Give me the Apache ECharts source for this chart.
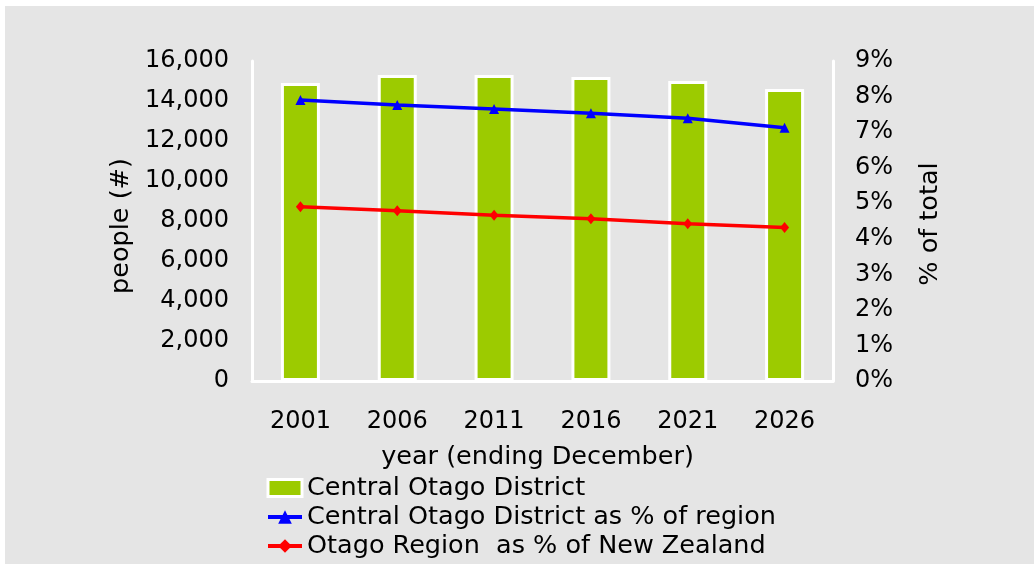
<!DOCTYPE html>
<html>
<head>
<meta charset="utf-8">
<script src="https://cdn.jsdelivr.net/npm/echarts@6/dist/echarts.min.js"></script>
<style>
html,body{margin:0;padding:0;background:#fff;}
#c{width:1034px;height:564px;}
</style>
</head>
<body>
<div id="c"></div>
<script>
const years = ['2001','2006','2011','2016','2021','2026'];
const districtPop = [14900, 15300, 15300, 15200, 15000, 14600];
const districtPctRegion = [7.90, 7.76, 7.65, 7.53, 7.39, 7.12];
const regionPctNZ = [4.90, 4.79, 4.66, 4.56, 4.42, 4.32];
const leftTicks = [0, 2000, 4000, 6000, 8000, 10000, 12000, 14000, 16000];
const rightTicks = [0,1,2,3,4,5,6,7,8,9];

const FONT = 'DejaVu Sans';
const chart = echarts.init(document.getElementById('c'), null, {renderer: 'canvas'});
const axisLine = {show: true, lineStyle: {color: '#ffffff', width: 3}};
chart.setOption({
  backgroundColor: '#ffffff',
  animation: false,
  textStyle: {fontFamily: FONT},
  graphic: [{
    type: 'rect', left: 5, top: 6, z: -10,
    shape: {width: 1029, height: 558},
    style: {fill: '#e5e5e5'}
  }],
  grid: {left: 252, right: 201, top: 61, bottom: 183},
  legend: {
    orient: 'vertical', left: 261, top: 470,
    itemWidth: 34, itemHeight: 17, itemGap: 3,
    textStyle: {fontFamily: FONT, fontSize: 25.5, color: '#000'},
    data: [
      {name: 'Central Otago District', icon: 'rect',
       itemStyle: {color: '#9ccb00', borderColor: '#ffffff', borderWidth: 3}},
      {name: 'Central Otago District as % of region', lineStyle: {width: 4, color: '#0000ff'}},
      {name: 'Otago Region  as % of New Zealand', lineStyle: {width: 4, color: '#ff0000'}}
    ]
  },
  xAxis: {
    type: 'category', data: years,
    axisLine: axisLine, axisTick: {show: false},
    axisLabel: {fontFamily: FONT, fontSize: 24, color: '#000', margin: 29},
    name: 'year (ending December)', nameLocation: 'middle', nameGap: 63,
    nameTextStyle: {fontFamily: FONT, fontSize: 25.5, color: '#000', padding: [0, 10, 0, 0]}
  },
  yAxis: [{
    type: 'value', min: 0, max: 16000, interval: 2000,
    axisLine: axisLine, axisTick: {show: false}, splitLine: {show: false},
    axisLabel: {fontFamily: FONT, fontSize: 24, color: '#000', margin: 23, padding: [4, 0, 0, 0],
      formatter: v => leftTicks.includes(v) ? v.toLocaleString('en-US') : ''},
    name: 'people (#)', nameLocation: 'middle', nameGap: 117, nameRotate: 90,
    nameTextStyle: {fontFamily: FONT, fontSize: 25.5, color: '#000', padding: [0, 10, 0, 0]}
  }, {
    type: 'value', min: 0, max: 9, interval: 1, position: 'right',
    axisLine: axisLine, axisTick: {show: false}, splitLine: {show: false},
    axisLabel: {fontFamily: FONT, fontSize: 24, color: '#000', margin: 22, padding: [4, 0, 0, 0],
      formatter: v => rightTicks.includes(v) ? v + '%' : ''},
    name: '% of total', nameLocation: 'middle', nameGap: 84, nameRotate: 90,
    nameTextStyle: {fontFamily: FONT, fontSize: 25.5, color: '#000', padding: [0, 6, 0, 0]}
  }],
  series: [{
    name: 'Central Otago District', type: 'bar', data: districtPop,
    barWidth: 39, yAxisIndex: 0,
    itemStyle: {color: '#9ccb00', borderColor: '#ffffff', borderWidth: 3}
  }, {
    name: 'Central Otago District as % of region', type: 'line', data: districtPctRegion,
    yAxisIndex: 1, symbol: 'triangle', symbolSize: 10,
    lineStyle: {color: '#0000ff', width: 3.5},
    itemStyle: {color: '#0000ff'}
  }, {
    name: 'Otago Region  as % of New Zealand', type: 'line', data: regionPctNZ,
    yAxisIndex: 1, symbol: 'diamond', symbolSize: [9, 11],
    lineStyle: {color: '#ff0000', width: 3.5},
    itemStyle: {color: '#ff0000'}
  }]
});
</script>
</body>
</html>
